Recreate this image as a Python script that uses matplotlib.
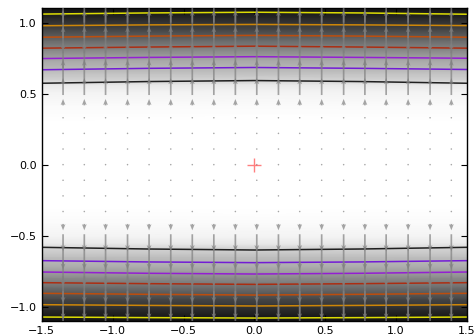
import numpy as np
import matplotlib
matplotlib.use("Agg")
import matplotlib.pyplot as plt

# background shade (0 = white, 1 = black), read along y
SHADE_Y = [1.1, 1.03, 0.95, 0.87, 0.80, 0.73, 0.655, 0.59, 0.56, 0.51, 0.42, 0.30, 0.0,
           -0.30, -0.42, -0.51, -0.56, -0.59, -0.655, -0.73, -0.80, -0.87, -0.95, -1.03, -1.1]
SHADE = [0.93, 0.84, 0.73, 0.58, 0.46, 0.34, 0.26, 0.17, 0.09, 0.05, 0.02, 0.0, 0.0,
         0.0, 0.02, 0.05, 0.09, 0.17, 0.26, 0.34, 0.46, 0.58, 0.73, 0.84, 0.93]

# contour lines: y at these x positions, one row per level (low -> high)
LINE_X = [-1.5, -0.75, 0.0, 0.75, 1.5]
UPPER = [
    [0.573, 0.585, 0.592, 0.585, 0.573],
    [0.668, 0.678, 0.684, 0.678, 0.670],
    [0.747, 0.755, 0.760, 0.755, 0.749],
    [0.820, 0.828, 0.834, 0.828, 0.820],
    [0.897, 0.905, 0.910, 0.905, 0.897],
    [0.978, 0.984, 0.987, 0.984, 0.979],
    [1.060, 1.068, 1.073, 1.068, 1.059],
]
LOWER = [
    [-0.582, -0.594, -0.601, -0.594, -0.582],
    [-0.676, -0.685, -0.690, -0.685, -0.676],
    [-0.756, -0.765, -0.770, -0.765, -0.756],
    [-0.831, -0.838, -0.843, -0.838, -0.831],
    [-0.906, -0.913, -0.918, -0.913, -0.906],
    [-0.986, -0.991, -0.995, -0.991, -0.986],
    [-1.073, -1.077, -1.080, -1.077, -1.073],
]

# arrow grid
Q_X = [-1.35, -1.20, -1.05, -0.895, -0.743, -0.59, -0.438, -0.286, -0.134, 0.017,
       0.17, 0.32, 0.475, 0.63, 0.78, 0.93, 1.085, 1.24, 1.39]
Q_Y = [-1.10, -0.99, -0.88, -0.77, -0.66, -0.55, -0.44, -0.33, -0.22, -0.11, 0.0,
       0.11, 0.22, 0.33, 0.44, 0.55, 0.66, 0.77, 0.88, 0.99, 1.10]
Q_V = [-0.20, -0.20, -0.19, -0.18, -0.16, -0.12, -0.045, 0.0, 0.0, 0.0, 0.0,
       0.0, 0.0, 0.0, 0.045, 0.12, 0.16, 0.18, 0.19, 0.20, 0.20]

fig = plt.figure(figsize=(4.75, 3.36), dpi=100)
ax = fig.add_axes([0.088, 0.045, 0.895, 0.930])

Z = np.column_stack([SHADE, SHADE])
ax.pcolormesh([-1.5, 1.5], SHADE_Y, Z, shading="gouraud", cmap="gray_r",
              vmin=0, vmax=1, zorder=0)

cmap = plt.get_cmap("gnuplot")
n = len(UPPER)
for i in range(n):
    c = cmap(i / (n - 1))
    ax.plot(LINE_X, UPPER[i], color=c, lw=1.1, alpha=0.85, zorder=2)
    ax.plot(LINE_X, LOWER[i], color=c, lw=1.1, alpha=0.85, zorder=2)

QX, QY = np.meshgrid(Q_X, Q_Y)
V = np.repeat(np.array(Q_V)[:, None], len(Q_X), axis=1)
U = np.zeros_like(V)
ax.quiver(QX, QY, U, V, angles="xy", scale_units="xy", scale=1, pivot="mid",
          color="0.5", alpha=0.7, width=0.004, headwidth=2.8, headlength=3.6,
          headaxislength=3.1, zorder=3)

ax.plot([0], [0], marker="+", color="red", alpha=0.5, ms=9.5, mew=1.0, zorder=4)

ax.set_xlim(-1.5, 1.5)
ax.set_ylim(-1.1, 1.1)
ax.set_xticks([-1.5, -1.0, -0.5, 0.0, 0.5, 1.0, 1.5])
ax.set_yticks([-1.0, -0.5, 0.0, 0.5, 1.0])
ax.tick_params(direction="in", top=True, right=True, length=4, labelsize=8)
for s in ax.spines.values():
    s.set_linewidth(1.0)

fig.savefig("out.png", dpi=100)
